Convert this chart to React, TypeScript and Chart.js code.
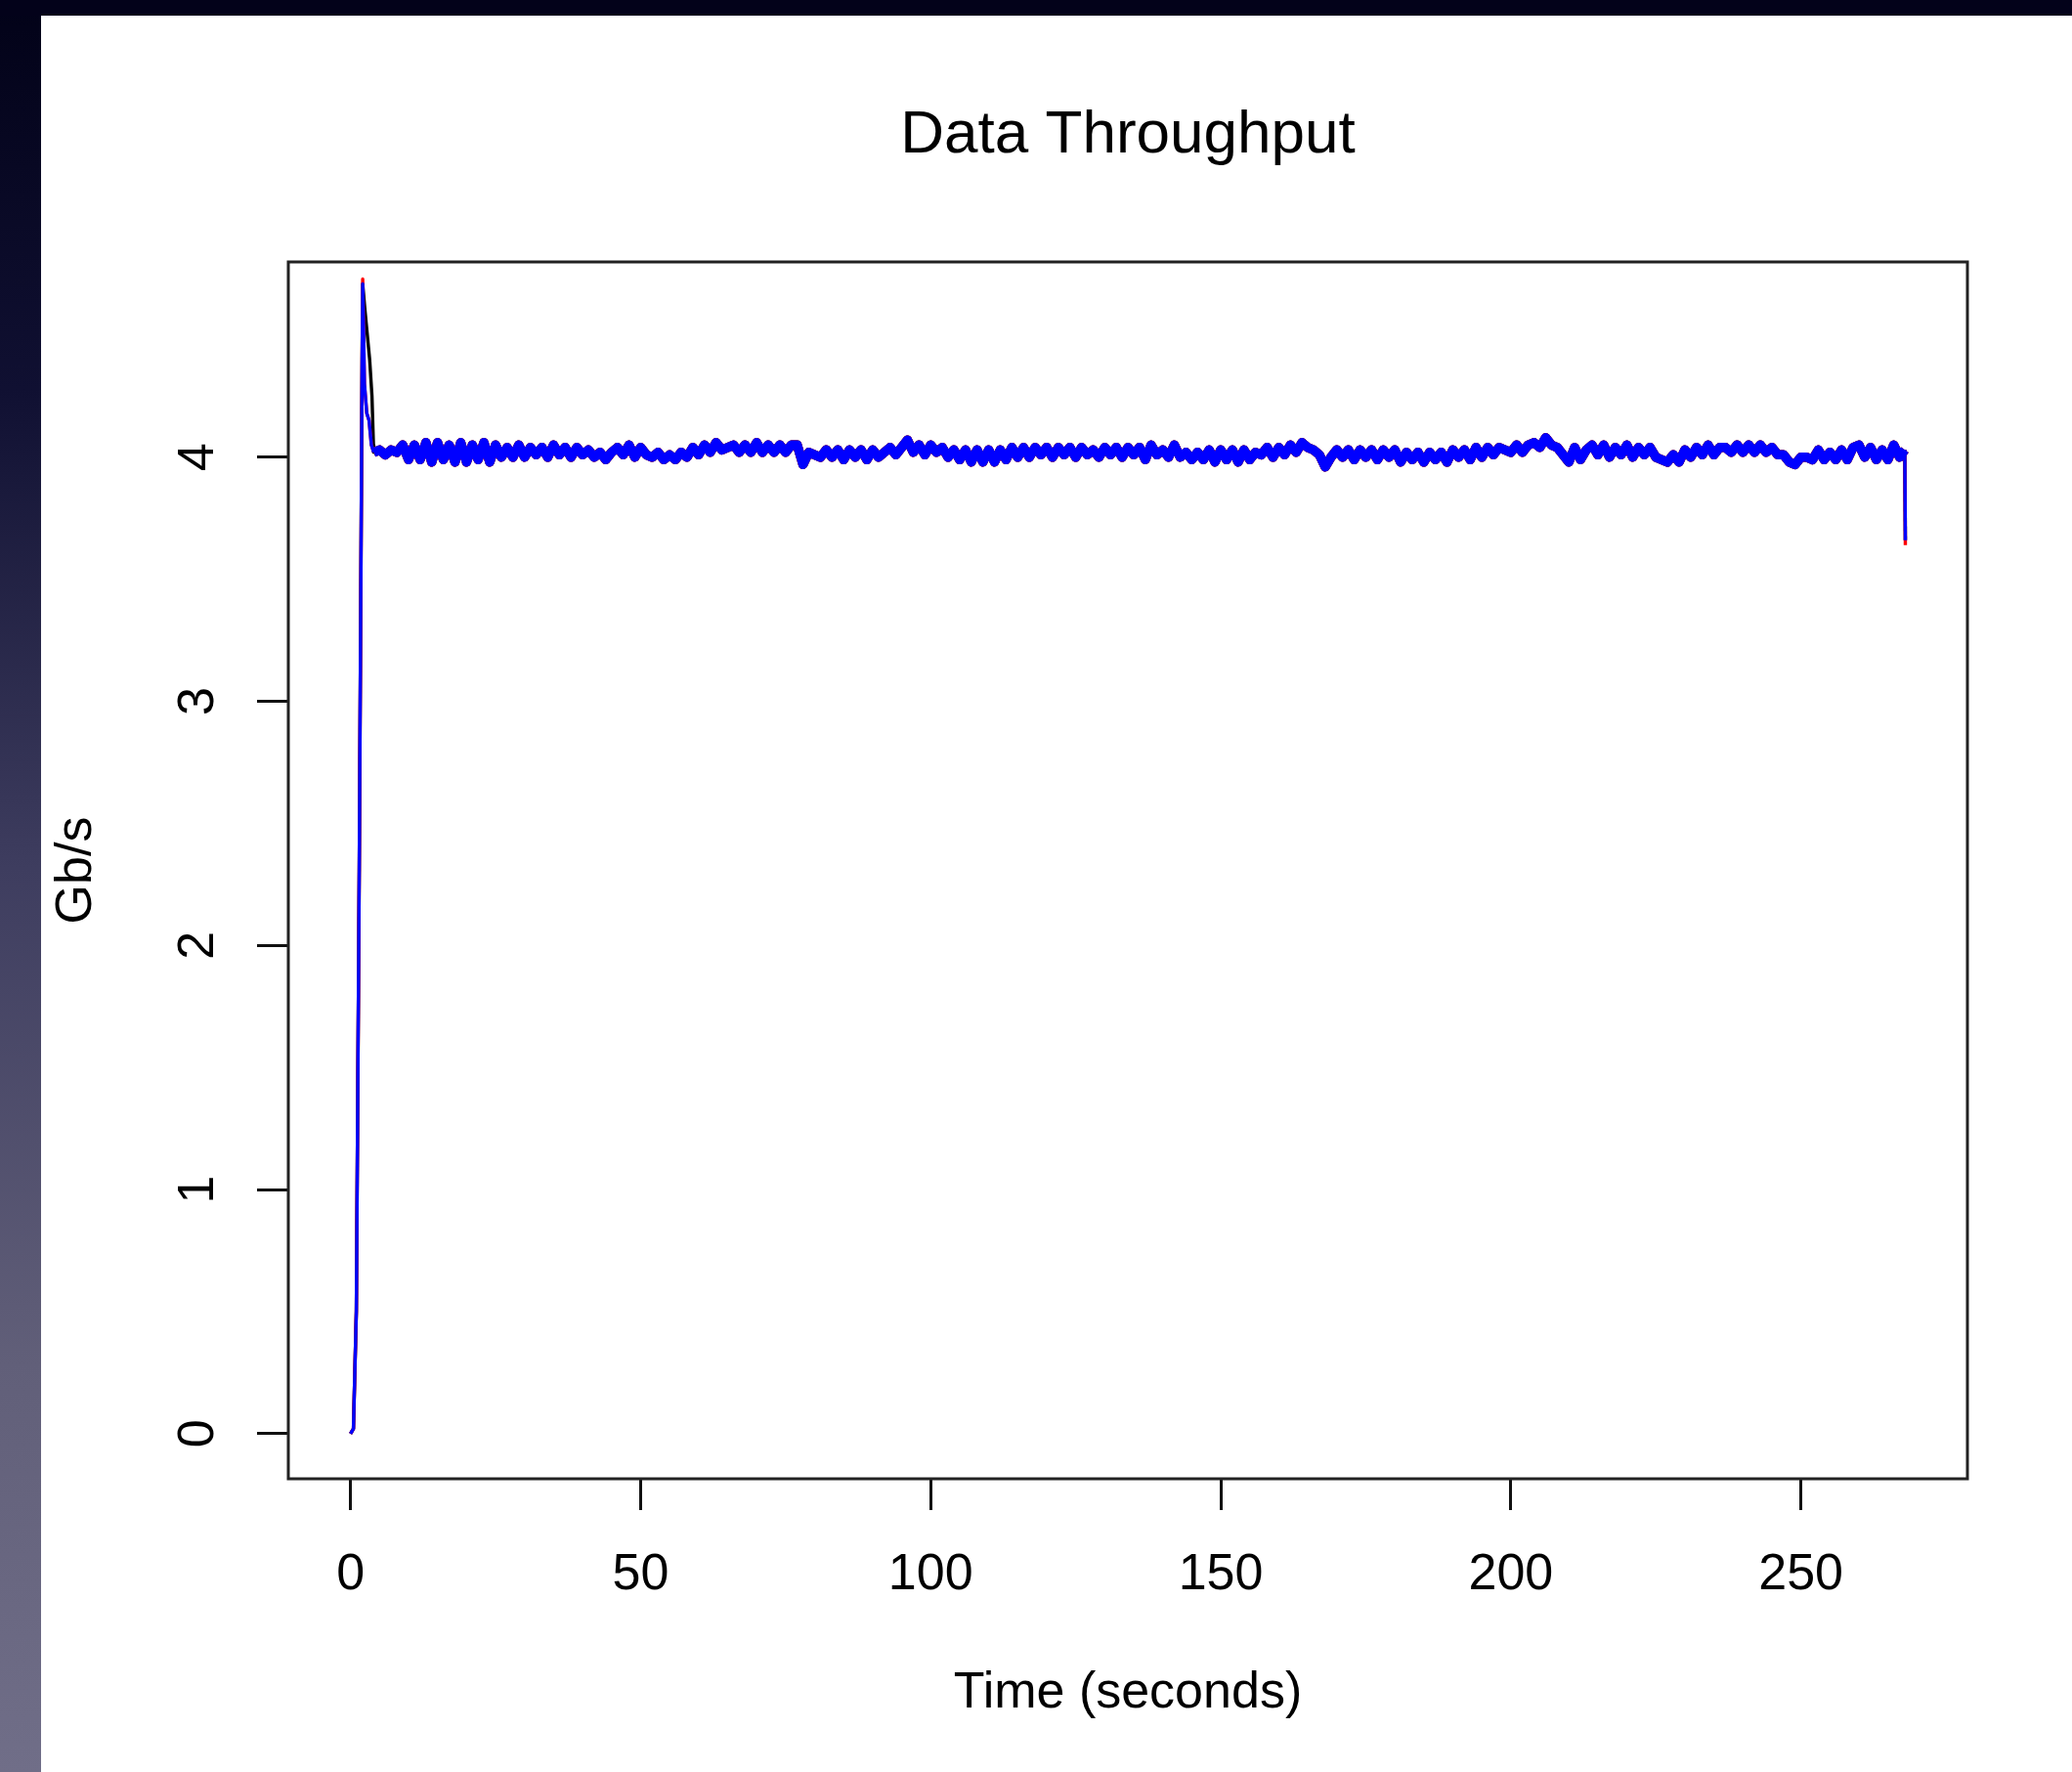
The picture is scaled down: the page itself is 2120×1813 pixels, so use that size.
import React, { useEffect, useRef } from "react";
import { Chart, registerables } from "chart.js";

Chart.register(...registerables);

const chartTitle = "Data Throughput";
const xAxisLabel = "Time (seconds)";
const yAxisLabel = "Gb/s";
const xTickValues = [0, 50, 100, 150, 200, 250];
const yTickValues = [0, 1, 2, 3, 4];
const xRange = [-10.72, 278.7];
const yRange = [-0.185, 4.8];

// start-up ramp (seconds, Gb/s)
const blueStartTimes = [0, 0.5, 1, 1.5, 2, 2.1, 2.4, 2.8, 3.2, 3.6];
const blueStartValues = [0, 0.02, 0.5, 2.3, 4.4, 4.71, 4.3, 4.18, 4.15, 4.05];
const redStartTimes = [0, 0.5, 1, 1.5, 2, 2.1, 2.4, 2.8, 3.2, 3.6];
const redStartValues = [0, 0.02, 0.5, 2.3, 4.4, 4.73, 4.3, 4.18, 4.15, 4.05];
const blackStartTimes = [0, 0.5, 1, 1.5, 2, 2.1, 2.5, 2.9, 3.3, 3.7, 3.95];
const blackStartValues = [0, 0.02, 0.5, 2.3, 4.4, 4.71, 4.6, 4.5, 4.4, 4.25, 4.05];

// steady state, one sample per second from t = 4 s to t = 267 s
const steadyFirstSecond = 4;
const steadyValues = [
  4.02, 4.03, 4.01, 4.03, 4.02, 4.05, 3.99, 4.05, 3.99, 4.06,
  3.98, 4.06, 3.99, 4.05, 3.98, 4.06, 3.98, 4.05, 3.99, 4.06,
  3.98, 4.05, 4.0, 4.04, 4.0, 4.05, 4.0, 4.04, 4.01, 4.04,
  4.0, 4.05, 4.01, 4.04, 4.0, 4.04, 4.01, 4.03, 4.0, 4.02,
  3.99, 4.02, 4.04, 4.01, 4.05, 4.0, 4.04, 4.01, 4.0, 4.02,
  3.99, 4.01, 3.99, 4.02, 4.0, 4.04, 4.01, 4.05, 4.02, 4.06,
  4.03, 4.04, 4.05, 4.02, 4.05, 4.02, 4.06, 4.02, 4.05, 4.02,
  4.05, 4.02, 4.05, 4.05, 3.97, 4.02, 4.01, 4.0, 4.03, 4.0,
  4.03, 3.99, 4.03, 4.0, 4.03, 3.99, 4.03, 4.0, 4.02, 4.04,
  4.01, 4.04, 4.07, 4.02, 4.05, 4.01, 4.05, 4.02, 4.04, 4.0,
  4.03, 3.99, 4.03, 3.98, 4.03, 3.98, 4.03, 3.98, 4.03, 3.99,
  4.04, 4.0, 4.04, 4.0, 4.04, 4.01, 4.04, 4.0, 4.04, 4.01,
  4.04, 4.0, 4.04, 4.01, 4.03, 4.0, 4.04, 4.01, 4.04, 4.0,
  4.04, 4.01, 4.04, 3.99, 4.05, 4.01, 4.03, 4.0, 4.05, 4.0,
  4.02, 3.99, 4.02, 3.99, 4.03, 3.98, 4.03, 3.99, 4.03, 3.98,
  4.03, 3.99, 4.02, 4.01, 4.04, 4.0, 4.04, 4.01, 4.05, 4.02,
  4.06, 4.04, 4.03, 4.01, 3.96, 4.0, 4.03, 4.0, 4.03, 3.99,
  4.03, 4.0, 4.03, 3.99, 4.03, 4.0, 4.03, 3.98, 4.02, 3.99,
  4.02, 3.98, 4.02, 3.99, 4.02, 3.98, 4.03, 4.0, 4.03, 3.99,
  4.04, 4.0, 4.04, 4.01, 4.04, 4.03, 4.02, 4.05, 4.02, 4.05,
  4.06, 4.04, 4.08, 4.05, 4.04, 4.01, 3.98, 4.04, 3.99, 4.03,
  4.05, 4.01, 4.05, 4.0, 4.04, 4.01, 4.05, 4.0, 4.04, 4.01,
  4.04, 4.0, 3.99, 3.98, 4.01, 3.98, 4.03, 4.0, 4.04, 4.01,
  4.05, 4.01, 4.04, 4.04, 4.02, 4.05, 4.02, 4.05, 4.02, 4.05,
  4.02, 4.04, 4.01, 4.01, 3.98, 3.97, 4.0, 4.0, 3.99, 4.03,
  3.99, 4.02, 3.99, 4.03, 3.99, 4.04, 4.05, 4.0, 4.04, 3.99,
  4.03, 3.99, 4.05, 4.0,
];

// final drop
const endTimes = [267.9, 268.0];
const blueEndValues = [4.03, 3.66];
const redEndValues = [4.03, 3.64];
const blackEndValues = [4.03, 3.66];

const FONT = '"Liberation Sans", Arial, Helvetica, sans-serif';

function buildSeries(startT: number[], startV: number[], endV: number[]) {
  const pts: { x: number; y: number }[] = [];
  startT.forEach((t, i) => pts.push({ x: t, y: startV[i] }));
  steadyValues.forEach((v, i) => pts.push({ x: steadyFirstSecond + i, y: v }));
  endTimes.forEach((t, i) => pts.push({ x: t, y: endV[i] }));
  return pts;
}

const segWidth = (ctx: any) => {
  const x0 = ctx.p0.parsed.x;
  const x1 = ctx.p1.parsed.x;
  if (x1 <= 4 || x0 >= 267.5) return 3.4;
  return 9.5;
};

const boxPlugin = {
  id: "plotBox",
  afterDraw(chart: any) {
    const { ctx, chartArea } = chart;
    ctx.save();
    ctx.strokeStyle = "#222";
    ctx.lineWidth = 3;
    ctx.strokeRect(chartArea.left, chartArea.top, chartArea.right - chartArea.left, chartArea.bottom - chartArea.top);
    ctx.restore();
  },
};

function lineSet(label: string, color: string, data: { x: number; y: number }[]) {
  return {
    label,
    data,
    borderColor: color,
    borderWidth: 9.5,
    pointRadius: 0,
    fill: false,
    tension: 0,
    borderJoinStyle: "round",
    borderCapStyle: "butt",
    segment: { borderWidth: segWidth },
  };
}

export default function App() {
  const ref = useRef<HTMLCanvasElement | null>(null);

  useEffect(() => {
    if (!ref.current) return;
    const chart = new Chart(ref.current, {
      type: "line",
      data: {
        datasets: [
          lineSet("blue", "#0000ff", buildSeries(blueStartTimes, blueStartValues, blueEndValues)),
          lineSet("red", "#ff0000", buildSeries(redStartTimes, redStartValues, redEndValues)),
          lineSet("black", "#000000", buildSeries(blackStartTimes, blackStartValues, blackEndValues)),
        ],
      },
      options: {
        animation: false,
        responsive: false,
        devicePixelRatio: 1,
        parsing: false,
        normalized: true,
        layout: { padding: { left: 0, right: 107, top: 0, bottom: 0 } },
        plugins: {
          legend: { display: false },
          tooltip: { enabled: false },
          title: {
            display: true,
            text: chartTitle,
            fullSize: false,
            color: "#000",
            font: { family: FONT, size: 62, weight: "normal", lineHeight: 1.2 },
            padding: { top: 101.5, bottom: 92.1 },
          },
        },
        scales: {
          x: {
            type: "linear",
            min: xRange[0],
            max: xRange[1],
            afterBuildTicks: (s: any) => {
              s.ticks = xTickValues.map((v) => ({ value: v }));
            },
            afterFit: (s: any) => {
              s.height = 300;
            },
            ticks: {
              color: "#000",
              font: { family: FONT, size: 52, lineHeight: 1.2 },
              padding: 35,
              maxRotation: 0,
              minRotation: 0,
              callback: (v: any) => String(v),
            },
            grid: {
              display: true,
              drawOnChartArea: false,
              drawTicks: true,
              tickLength: 32,
              color: "#111",
              lineWidth: 3,
            },
            border: { display: false },
            title: {
              display: true,
              text: xAxisLabel,
              color: "#000",
              font: { family: FONT, size: 52, lineHeight: 1.2 },
              padding: { top: 0, bottom: 49 },
            },
          },
          y: {
            type: "linear",
            min: yRange[0],
            max: yRange[1],
            afterBuildTicks: (s: any) => {
              s.ticks = yTickValues.map((v) => ({ value: v }));
            },
            afterFit: (s: any) => {
              s.width = 295;
            },
            ticks: {
              color: "#000",
              font: { family: FONT, size: 52, lineHeight: 1.2 },
              padding: 44.5,
              minRotation: 90,
              maxRotation: 90,
              crossAlign: "center",
              callback: (v: any) => String(v),
            },
            grid: {
              display: true,
              drawOnChartArea: false,
              drawTicks: true,
              tickLength: 32,
              color: "#111",
              lineWidth: 3,
            },
            border: { display: false },
            title: {
              display: true,
              text: yAxisLabel,
              color: "#000",
              font: { family: FONT, size: 52, lineHeight: 1.2 },
              padding: { top: 47.8, bottom: 0 },
            },
          },
        },
      },
      plugins: [boxPlugin],
    } as any);
    return () => chart.destroy();
  }, []);

  return (
    <div style={{ position: "fixed", left: 0, top: 0, width: 2120, height: 1813, background: "#ffffff", overflow: "hidden" }}>
      <div
        style={{
          position: "absolute",
          left: 0,
          top: 0,
          width: 42,
          height: 1813,
          background: "linear-gradient(to bottom, #020218 0%, #101032 22%, #3e3d5f 49%, #615f79 77%, #706e88 100%)",
        }}
      />
      <div style={{ position: "absolute", left: 0, top: 0, width: 2120, height: 16, background: "#03021a" }} />
      <canvas ref={ref} width={2120} height={1813} style={{ position: "absolute", left: 0, top: 0, display: "block" }} />
    </div>
  );
}
